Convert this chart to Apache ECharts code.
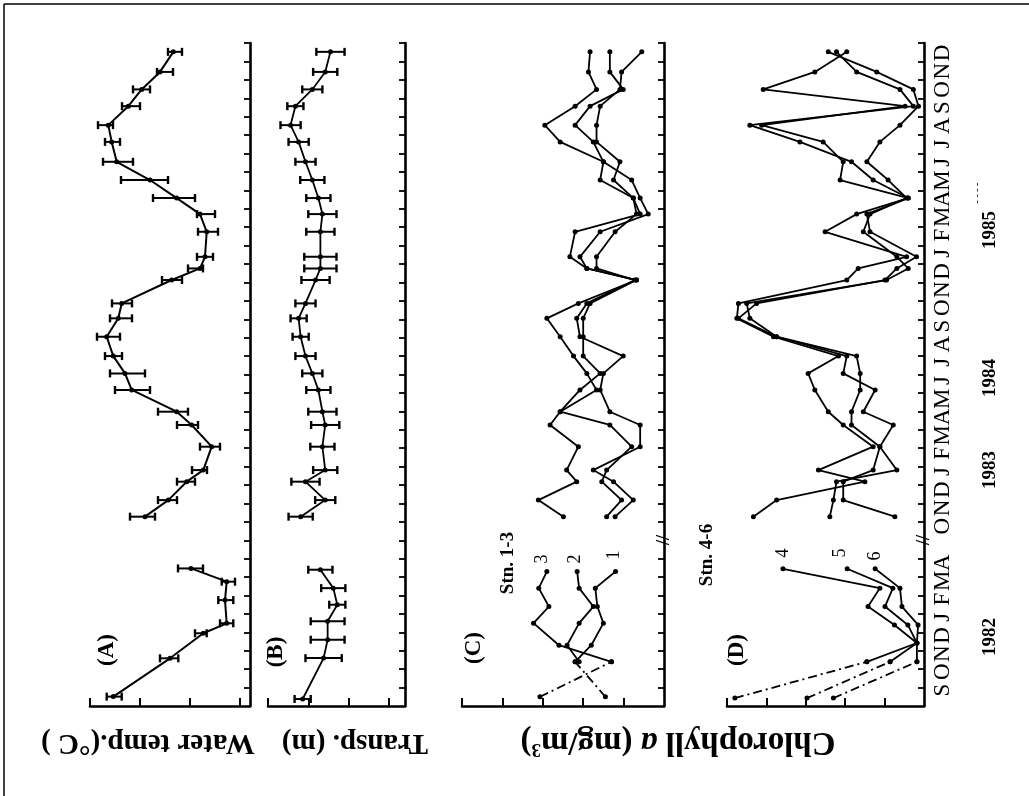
<!DOCTYPE html>
<html><head><meta charset="utf-8">
<script src="https://cdn.jsdelivr.net/npm/echarts@6/dist/echarts.min.js"></script>
<style>html,body{margin:0;padding:0;background:#fff}#c{width:1029px;height:796px}</style>
</head><body><div id="c"></div><script>
// ---------- time axis (month index, 0 = lower end of axis) ----------
const monthLetters = ['S','O','N','D','J','F','M','A','O','N','D','J','F','M','A','M','J','J','A','S','O','N','D','J','F','M','A','M','J','J','A','S','O','N','D'];
const monthSlots = [1,2,3,4,5,6,7,8,10,11,12,13,14,15,16,17,18,19,20,21,22,23,24,25,26,27,28,29,30,31,32,33,34,35,36];
const yearLabels = ['1982','1983','1984','1985'];

// ---------- (A) water temperature ----------
const tempTime1 = [0.51, 2.59, 3.95, 4.49, 5.75, 6.75, 7.47];
const tempMean1 = [17.67, 12.0, 8.67, 6.33, 6.5, 6.33, 9.9];
const tempLow1  = [16.83, 11.17, 8.33, 5.67, 5.67, 5.5, 8.7];
const tempHigh1 = [18.33, 13.0, 9.5, 7.0, 7.17, 6.83, 11.2];
const sampleTime2 = [10.28, 11.18, 12.18, 12.81, 14.08, 15.26, 15.98, 17.16, 18.06, 19.0, 20.05, 21.05, 21.86, 23.13, 23.76, 24.39, 25.75, 26.71, 27.58, 28.56, 29.55, 30.63, 31.54, 32.57, 33.48, 34.43, 35.52];
const tempMean2 = [14.5, 12.17, 10.33, 8.67, 7.83, 9.83, 11.33, 15.83, 16.5, 17.67, 18.33, 17.17, 16.83, 11.83, 9.0, 8.5, 8.33, 9.0, 11.33, 14.0, 17.33, 17.83, 18.17, 16.17, 14.83, 13.0, 11.67];
const tempLow2  = [13.5, 11.3, 9.5, 8.3, 7.0, 9.2, 10.2, 14.0, 14.5, 16.8, 17.0, 15.8, 15.8, 10.8, 8.7, 7.7, 7.2, 7.5, 9.5, 12.2, 15.7, 17.0, 17.7, 15.0, 14.0, 11.7, 10.8];
const tempHigh2 = [16.0, 13.2, 11.3, 9.8, 9.0, 11.3, 13.2, 17.5, 18.0, 18.5, 19.3, 18.0, 17.8, 12.8, 10.2, 9.3, 9.2, 9.3, 13.7, 16.9, 18.7, 18.5, 19.2, 16.8, 15.7, 13.3, 12.2];

// ---------- (B) transparency ----------
const transpTime1 = [0.38, 2.6, 3.6, 4.6, 5.5, 6.4, 7.4];
const transpMean1 = [3.14, 2.62, 2.52, 2.52, 2.28, 2.38, 2.7];
const transpErr1  = [0.2, 0.45, 0.42, 0.42, 0.2, 0.3, 0.3];
const transpMean2 = [3.19, 2.58, 3.07, 2.58, 2.65, 2.58, 2.65, 2.75, 2.9, 3.07, 3.19, 3.24, 3.07, 2.82, 2.7, 2.7, 2.7, 2.65, 2.75, 2.9, 3.07, 3.24, 3.44, 3.32, 2.9, 2.58, 2.45];
const transpErr2  = [0.3, 0.25, 0.35, 0.3, 0.3, 0.35, 0.35, 0.3, 0.25, 0.25, 0.2, 0.2, 0.25, 0.35, 0.4, 0.4, 0.35, 0.35, 0.3, 0.3, 0.25, 0.25, 0.25, 0.2, 0.25, 0.3, 0.35];

// ---------- (C) chlorophyll a, stations 1-3 ----------
const chlCStartTime = 0.5;
const chlCStart = [1.45, null, 3.07];          // stn 1, 2, 3 (dashed first leg)
const chlCTime1 = [2.4, 3.3, 4.5, 5.4, 6.4, 7.3];
const stn1Seg1 = [2.2, 1.8, 1.5, 1.65, 1.7, 1.2];
const stn2Seg1 = [2.1, 2.4, 2.1, 1.75, 2.1, 2.15];
const stn3Seg1 = [1.3, 2.6, 3.23, 2.85, 3.1, 2.9];
const stn1Seg2 = [1.21, 0.76, 1.25, 1.75, 0.59, 0.59, 1.34, 1.58, 1.5, 1.01, 2.08, 2.16, 1.91, 0.72, 1.67, 1.67, 1.21, 0.68, 0.76, 1.25, 1.09, 1.67, 1.67, 1.58, 1.09, 1.05, 0.55];
const stn2Seg2 = [1.42, 1.05, 1.54, 1.42, 0.8, 1.34, 2.57, 2.08, 1.58, 2.0, 2.0, 2.0, 1.83, 0.68, 1.91, 2.08, 1.58, 0.39, 0.59, 0.8, 1.5, 1.75, 2.2, 1.83, 1.01, 1.34, 1.34];
const stn3Seg2 = [2.49, 3.11, 2.16, 2.41, 2.12, 2.82, 2.57, 1.67, 1.91, 2.24, 2.57, 2.9, 2.12, 0.68, 1.91, 2.33, 2.2, 0.59, 0.76, 1.58, 1.5, 2.57, 2.95, 2.2, 1.67, 1.87, 1.83];

// ---------- (D) chlorophyll a, stations 4-6 ----------
const chlDStartTime = 0.43;
const chlDStart = [4.8, 2.97, 2.3];            // stn 4, 5, 6 (dashed first leg)
const chlDTime1 = [2.4, 3.42, 4.4, 5.4, 6.4, 7.45];
const stn4Seg1 = [1.45, 0.18, 0.75, 1.42, 1.12, 3.58];
const stn5Seg1 = [0.86, 0.18, 0.41, 0.99, 0.79, 1.95];
const stn6Seg1 = [0.18, 0.18, 0.15, 0.56, 0.61, 1.24];
const stn4Seg2 = [4.33, 3.74, 1.5, 2.68, 1.29, 2.05, 2.43, 2.77, 2.94, 2.17, 3.82, 4.75, 4.71, 1.96, 1.67, 0.44, 2.51, 1.71, 0.4, 2.13, 2.05, 2.56, 4.12, 0.48, 4.08, 2.77, 1.96];
const stn5Seg2 = [2.39, 2.3, 2.22, 0.69, 1.12, 0.78, 1.54, 1.24, 2.05, 1.96, 3.74, 4.71, 4.25, 0.99, 0.69, 0.19, 1.37, 1.45, 0.4, 1.29, 1.84, 3.15, 4.42, 0.27, 0.61, 1.71, 2.22];
const stn6Seg2 = [0.74, 2.05, 2.05, 1.29, 1.12, 1.84, 1.84, 1.62, 1.62, 1.71, 3.74, 4.42, 4.5, 0.95, 0.4, 0.69, 1.54, 1.37, 0.44, 0.91, 1.45, 1.12, 0.61, 0.14, 0.27, 1.2, 2.43];

// ---------- helpers ----------
const SERIF = '"Liberation Serif","DejaVu Serif",serif';
const pts = (times, vals) => times.map((t, i) => [vals[i], t]);
const errRows = (times, lo, hi) => times.map((t, i) => [lo[i], hi[i], t]);
const errRowsPM = (times, mean, err) => times.map((t, i) => [mean[i] - err[i], mean[i] + err[i], t]);

function line(g, data, dashed, w) {
  return {
    type: 'line', xAxisIndex: g, yAxisIndex: g, data: data,
    symbol: 'circle', symbolSize: 5, silent: true, animation: false, z: 3,
    lineStyle: { color: '#000', width: w || 1.8, type: dashed ? [9, 4, 2, 4] : 'solid' },
    itemStyle: { color: '#000' }
  };
}
function errBars(g, data) {
  return {
    type: 'custom', xAxisIndex: g, yAxisIndex: g, data: data, silent: true, animation: false, z: 4,
    encode: { x: [0, 1], y: 2 },
    renderItem: function (params, api) {
      const p1 = api.coord([api.value(0), api.value(2)]);
      const p2 = api.coord([api.value(1), api.value(2)]);
      const c = 4;
      const st = { stroke: '#000', lineWidth: 2 };
      return { type: 'group', children: [
        { type: 'line', shape: { x1: p1[0], y1: p1[1], x2: p2[0], y2: p2[1] }, style: st },
        { type: 'line', shape: { x1: p1[0], y1: p1[1] - c, x2: p1[0], y2: p1[1] + c }, style: { stroke: '#000', lineWidth: 2.4 } },
        { type: 'line', shape: { x1: p2[0], y1: p2[1] - c, x2: p2[0], y2: p2[1] + c }, style: { stroke: '#000', lineWidth: 2.4 } }
      ] };
    }
  };
}

const allTicks = []; for (let m = 1; m <= 36; m++) allTicks.push(m);
const brokenTicks = allTicks.filter(m => m !== 9);

const TOP = 43, H = 663;
const grids = [
  { left: 90, top: TOP, width: 160, height: H },
  { left: 268, top: TOP, width: 137, height: H },
  { left: 462, top: TOP, width: 202, height: H },
  { left: 727, top: TOP, width: 197, height: H }
];
const axLine = { show: true, lineStyle: { color: '#000', width: 2.6 } };
function valAxis(g, min, max, ticks) {
  return { gridIndex: g, type: 'value', inverse: true, min: min, max: max, position: 'bottom',
    axisLine: axLine, splitLine: { show: false }, axisLabel: { show: false },
    axisTick: { show: true, inside: true, length: 8, lineStyle: { color: '#000', width: 2 }, customValues: ticks } };
}
function timeAxis(g, ticks) {
  return { gridIndex: g, type: 'value', min: 0, max: 36, position: 'right',
    axisLine: axLine, splitLine: { show: false }, axisLabel: { show: false },
    axisTick: { show: true, inside: true, length: 6, lineStyle: { color: '#000', width: 1.8 }, customValues: ticks } };
}
const letterMap = {}; monthSlots.forEach((m, i) => letterMap[m] = monthLetters[i]);

const xAxes = [
  valAxis(0, 4, 20, [5, 10, 15, 20]),
  valAxis(1, 0.6, 4, [1, 2, 3, 4]),
  valAxis(2, 0, 5, [1, 2, 3, 4, 5]),
  valAxis(3, 0, 5, [1, 2, 3, 4, 5])
];
const yAxes = [
  timeAxis(0, allTicks), timeAxis(1, allTicks), timeAxis(2, brokenTicks), timeAxis(3, brokenTicks),
  { gridIndex: 3, type: 'value', min: 0.12, max: 36.55, position: 'right',
    axisLine: { show: false }, axisTick: { show: false }, splitLine: { show: false },
    axisLabel: { show: true, customValues: monthSlots, formatter: v => letterMap[Math.round(v)] || '',
      rotate: 90, align: 'center', verticalAlign: 'top', margin: 7,
      fontFamily: SERIF, fontSize: 23, color: '#000' } }
];

const series = [
  line(0, pts(tempTime1, tempMean1), false, 2), errBars(0, errRows(tempTime1, tempLow1, tempHigh1)),
  line(0, pts(sampleTime2, tempMean2), false, 2), errBars(0, errRows(sampleTime2, tempLow2, tempHigh2)),
  line(1, pts(transpTime1, transpMean1), false, 1.8), errBars(1, errRowsPM(transpTime1, transpMean1, transpErr1)),
  line(1, pts(sampleTime2, transpMean2), false, 1.8), errBars(1, errRowsPM(sampleTime2, transpMean2, transpErr2)),
  // C
  line(2, [[chlCStart[0], chlCStartTime], [stn1Seg1[0], chlCTime1[0]]], true),
  line(2, [[chlCStart[2], chlCStartTime], [stn3Seg1[0], chlCTime1[0]]], true),
  line(2, pts(chlCTime1, stn1Seg1)), line(2, pts(chlCTime1, stn2Seg1)), line(2, pts(chlCTime1, stn3Seg1)),
  line(2, pts(sampleTime2, stn1Seg2)), line(2, pts(sampleTime2, stn2Seg2)), line(2, pts(sampleTime2, stn3Seg2)),
  // D
  line(3, [[chlDStart[0], chlDStartTime], [stn4Seg1[0], chlDTime1[0]]], true),
  line(3, [[chlDStart[1], chlDStartTime], [stn5Seg1[0], chlDTime1[0]]], true),
  line(3, [[chlDStart[2], chlDStartTime], [stn6Seg1[0], chlDTime1[0]]], true),
  line(3, pts(chlDTime1, stn4Seg1)), line(3, pts(chlDTime1, stn5Seg1)), line(3, pts(chlDTime1, stn6Seg1)),
  line(3, pts(sampleTime2, stn4Seg2)), line(3, pts(sampleTime2, stn5Seg2)), line(3, pts(sampleTime2, stn6Seg2))
];

function rtext(x, y, text, size, bold, rot, extra) {
  return Object.assign({ type: 'text', x: x, y: y, rotation: rot, silent: true, z: 10,
    style: { text: text, fill: '#000', font: (bold ? 'bold ' : '') + size + 'px ' + SERIF,
      align: 'center', verticalAlign: 'middle' } }, extra || {});
}
const UP = Math.PI / 2, FLIP = Math.PI;
const graphic = [
  { type: 'line', shape: { x1: 4, y1: 4, x2: 1029, y2: 4 }, style: { stroke: '#000', lineWidth: 1.5 }, silent: true },
  { type: 'line', shape: { x1: 4, y1: 4, x2: 4, y2: 796 }, style: { stroke: '#000', lineWidth: 1.5 }, silent: true },
  rtext(107, 650, '(A)', 23, true, UP),
  rtext(276, 652, '(B)', 23, true, UP),
  rtext(474, 648, '(C)', 23, true, UP),
  rtext(737, 650, '(D)', 23, true, UP),
  rtext(508, 563, 'Stn. 1-3', 19, true, UP),
  rtext(707, 555, 'Stn. 4-6', 19, true, UP),
  rtext(614, 555, '1', 18, false, UP), rtext(575, 559, '2', 18, false, UP), rtext(542, 559, '3', 18, false, UP),
  rtext(783, 553, '4', 18, false, UP), rtext(840, 553, '5', 18, false, UP), rtext(875, 556, '6', 18, false, UP),
  rtext(664, 540, '//', 18, true, UP), rtext(924, 540, '//', 18, true, UP),
  rtext(990, 637, yearLabels[0], 19, true, UP), rtext(990, 470, yearLabels[1], 19, true, UP),
  rtext(990, 378, yearLabels[2], 19, true, UP), rtext(990, 230, yearLabels[3], 19, true, UP),
  rtext(977, 193, '- - - -', 10, false, UP),
  rtext(148, 742, 'Water temp.(°C )', 29, true, FLIP),
  rtext(355, 742, 'Transp. (m)', 29, true, FLIP),
  { type: 'text', x: 678, y: 742, rotation: FLIP, silent: true, z: 10,
    style: { text: 'Chlorophyll {i|a} (mg/m{s|3})', fill: '#000', font: 'bold 33px ' + SERIF,
      align: 'center', verticalAlign: 'middle',
      rich: { i: { font: 'italic bold 33px ' + SERIF, fill: '#000' },
              s: { font: 'bold 19px ' + SERIF, fill: '#000', verticalAlign: 'top', padding: [0, 0, 13, 0] } } } }
];

const chart = echarts.init(document.getElementById('c'), null, { renderer: 'canvas' });
chart.setOption({
  backgroundColor: '#fff', animation: false,
  grid: grids, xAxis: xAxes, yAxis: yAxes, series: series, graphic: graphic
});
</script></body></html>
